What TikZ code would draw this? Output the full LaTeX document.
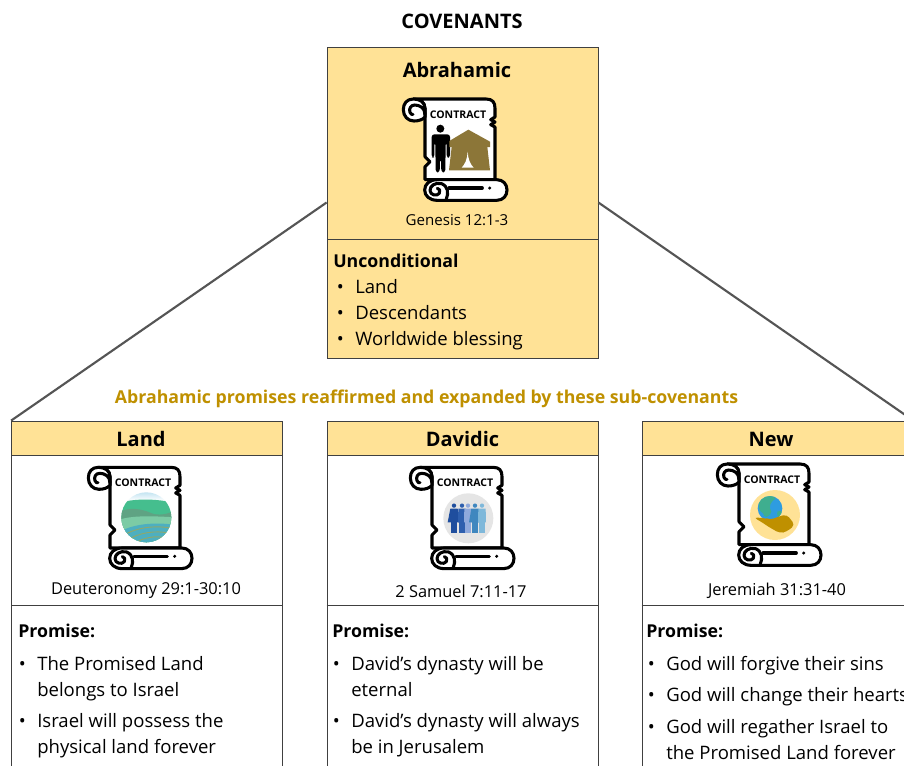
\documentclass[tikz,border=0pt]{standalone}
\usepackage{fontspec}
\setmainfont{Open Sans}
\definecolor{paleyellow}{HTML}{FFE296}
\definecolor{goldtext}{HTML}{BF9000}
\definecolor{tentbrown}{HTML}{8C7638}
\definecolor{linkgray}{HTML}{555555}
\definecolor{skyblue}{HTML}{B4DDEE}
\definecolor{hillgreen}{HTML}{45BE8E}
\definecolor{hilldark}{HTML}{5FA383}
\definecolor{hillpale}{HTML}{7CCBA5}
\definecolor{fieldblue}{HTML}{4DAFC0}
\definecolor{fieldline}{HTML}{8FA86B}
\definecolor{personone}{HTML}{1F4E9E}
\definecolor{persontwo}{HTML}{2E5FAE}
\definecolor{personthree}{HTML}{8FA9DC}
\definecolor{personfour}{HTML}{3F87BF}
\definecolor{personfive}{HTML}{7FB8DA}
\definecolor{globeblue}{HTML}{2E9CE0}
\definecolor{globeland}{HTML}{3FAE8F}
\tikzset{
  boxline/.style={draw=black!75,line width=0.6pt},
  bigbox/.style={boxline,rectangle,inner sep=0pt,minimum width=203.25pt},
  headbox/.style={boxline,rectangle,fill=paleyellow,inner sep=0pt,minimum width=203.25pt,minimum height=26pt},
  headtext/.style={inner sep=0pt,font=\fontsize{15}{18}\selectfont\bfseries},
  bodytext/.style={anchor=north west,inner sep=0pt,align=left,font=\fontsize{13.9}{19.5}\selectfont},
  boldtext/.style={bodytext,font=\fontsize{13.3}{19.5}\selectfont\bfseries},
  reftext/.style={inner sep=0pt,font=\fontsize{12.3}{15}\selectfont},
  icon/.style={scale=1/3},
  scrollline/.style={draw=black,line width=2.3pt,line join=round,line cap=round},
  scrollicon/.pic={
    % sheet
    \path[scrollline,fill=white] (100,42) -- (318,42) .. controls (338,42) and (345,52) .. (345,70)
      -- (345,96) -- (332,104) -- (345,111) -- (332,119) -- (345,126) -- (345,284) -- (135,284)
      -- (135,245) -- (150,230) -- (135,215) -- (135,70) .. controls (135,52) and (120,42) .. (100,42) -- cycle;
    % top curl
    \path[scrollline,fill=white] (100,42) .. controls (80,42) and (70,56) .. (70,74)
      .. controls (70,94) and (84,108) .. (102,108) .. controls (116,108) and (128,104) .. (135,96) -- (135,70)
      .. controls (135,52) and (120,42) .. (100,42) -- cycle;
    \path[scrollline] (135,88) .. controls (135,68) and (118,60) .. (104,60)
      .. controls (92,60) and (86,72) .. (90,82) .. controls (92,88) and (97,90) .. (99,88);
    % bottom roll
    \path[scrollline,fill=white] (172,284) -- (350,284) .. controls (370,284) and (381,298) .. (381,315)
      .. controls (381,332) and (370,346) .. (350,346) -- (172,346) .. controls (148,346) and (134,332) .. (134,315)
      .. controls (134,298) and (148,284) .. (172,284) -- cycle;
    \path[scrollline] (199,342) .. controls (206,325) and (205,305) .. (185,296) .. controls (165,291) and (150,303) .. (150,316)
      .. controls (150,330) and (170,335) .. (178,325) .. controls (183,318) and (178,310) .. (172,310);
    \path[scrollline] (207,309) -- (307,309);
    \fill (329,309) circle (5);
    \node[font=\fontsize{7.9}{9}\selectfont\bfseries,inner sep=0pt] (label) at (234,89) {CONTRACT};
  },
  tenticon/.pic={
    \fill (181,131) circle (12);
    \fill[rounded corners=2] (155,148) -- (210,148) -- (210,218) -- (200,218) -- (200,172) -- (197,172) -- (196,262)
      -- (184,262) -- (183,222) -- (180,222) -- (179,262) -- (167,262) -- (166,172) -- (163,172) -- (163,218) -- (155,218) -- cycle;
    \fill[tentbrown] (265,134) -- (330,170) -- (330,186) -- (322,186) -- (330,256) -- (207,256) -- (215,186) -- (208,186) -- (208,168) -- cycle;
    \fill[white] (263,200) .. controls (262,222) and (255,238) .. (245,248) -- (281,248) .. controls (271,238) and (264,222) .. (263,200) -- cycle;
  },
  landicon/.pic={
    \begin{scope}
      \clip (244,192) circle (75);
      \shade[top color=skyblue,bottom color=white] (160,110) rectangle (330,142);
      \fill[hillgreen] (160,150) .. controls (200,135) and (280,135) .. (330,150) -- (330,280) -- (160,280) -- cycle;
      \fill[hilldark] (160,178) .. controls (190,160) and (230,166) .. (260,180) .. controls (280,188) and (310,182) .. (330,172) -- (330,280) -- (160,280) -- cycle;
      \fill[hillpale] (160,200) .. controls (200,186) and (260,188) .. (330,192) -- (330,280) -- (160,280) -- cycle;
      \fill[fieldblue] (160,238) .. controls (200,212) and (270,205) .. (330,215) -- (330,280) -- (160,280) -- cycle;
      \draw[fieldline,line width=0.7pt] (170,250) .. controls (210,222) and (270,215) .. (320,225);
      \draw[fieldline,line width=0.7pt] (185,262) .. controls (220,238) and (270,230) .. (315,240);
      \draw[fieldline,line width=0.7pt] (205,272) .. controls (235,252) and (270,246) .. (305,254);
    \end{scope}
  },
  peopleicon/.pic={
    \fill[black!10] (244,195) circle (75);
    \foreach \fx/\fw/\fcol in {201/19/personone,225/12/persontwo,243/12/personthree,264/18/personfour,285/12/personfive} {
      \fill[\fcol] (\fx,157) circle (6.5);
      \fill[\fcol] (\fx-11,166) -- (\fx+11,166) -- (\fx+\fw,207) -- (\fx-\fw,207) -- cycle;
      \fill[\fcol] (\fx-9,207) rectangle (\fx-1,239);
      \fill[\fcol] (\fx+1,207) rectangle (\fx+9,239);
    }
  },
  globeicon/.pic={
    \fill[paleyellow] (243,195) circle (75);
    \fill[globeblue] (228,175) circle (37);
    \begin{scope}
      \clip (228,175) circle (37);
      \fill[globeland] (195,160) .. controls (205,135) and (235,130) .. (245,145) .. controls (230,155) and (222,170) .. (232,185) .. controls (225,205) and (210,205) .. (207,190) .. controls (197,185) and (192,172) .. (195,160) -- cycle;
      \fill[globeland] (250,185) .. controls (262,178) and (270,188) .. (262,203) .. controls (252,205) and (248,195) .. (250,185) -- cycle;
    \end{scope}
    \fill[goldtext,rounded corners=3] (178,202) -- (218,205) -- (228,210) -- (253,200) -- (278,193) -- (303,225) -- (278,245) -- (258,250) -- (223,230) -- (198,213) -- cycle;
  }
}
\begin{document}
\begin{tikzpicture}[x=0.75pt,y=-0.75pt]
      \useasboundingbox (0,0) rectangle (904,765);
      \clip (0,0) rectangle (904,765);
      \node[headtext] (title) at (462,21) {COVENANTS};

      % main covenant
      \node[bigbox,fill=paleyellow,minimum height=233.25pt] (abrahamic) at (462.5,202.5) {};
      \node[boxline,rectangle,inner sep=0pt,minimum width=203.25pt,minimum height=89.25pt,anchor=south] (abrahamicbody) at (abrahamic.south) {};
      \node[headtext] (abrahamicname) at (457,70) {Abrahamic};
      \pic[icon] at (380,85) {scrollicon};
      \pic[icon] at (380,85) {tenticon};
      \node[reftext,font=\fontsize{11.3}{15}\selectfont] (genesis) at (457,220) {Genesis 12:1-3};
      \node[boldtext] (uncond) at (333,254) {Unconditional};
      \node[bodytext] (uncond1) at (355,279) {\llap{•\hspace{8.5pt}}Land};
      \node[bodytext] (uncond2) at (355,305) {\llap{•\hspace{8.5pt}}Descendants};
      \node[bodytext] (uncond3) at (355,331) {\llap{•\hspace{8.5pt}}Worldwide blessing};

      \node[font=\fontsize{13.3}{16}\selectfont\bfseries,text=goldtext,inner sep=0pt] (reaffirmed) at (426.5,399) {Abrahamic promises reaffirmed and expanded by these sub-covenants};

      % sub-covenants
      \node[bigbox,fill=white,minimum height=300pt] (land) at (147,621) {};
      \node[bigbox,fill=white,minimum height=300pt] (davidic) at (462.5,621) {};
      \node[bigbox,fill=white,minimum height=300pt] (new) at (777.5,621) {};
      \node[headbox,anchor=north] (landhead) at (land.north) {};
      \node[headbox,anchor=north] (davidichead) at (davidic.north) {};
      \node[headbox,anchor=north] (newhead) at (new.north) {};
      \node[headtext] (landname) at (141,439) {Land};
      \node[headtext] (davidicname) at (462.5,439) {Davidic};
      \node[headtext] (newname) at (771,439) {New};

      \path[draw=linkgray,line width=1.6pt]
      (abrahamic.west) edge (land.north west)
      (abrahamic.east) edge (new.north east);

      \pic[icon] at (65,453.3) {scrollicon};
      \pic[icon] at (65,453.3) {landicon};
      \pic[icon] at (387,453.3) {scrollicon};
      \pic[icon] at (387,453.3) {peopleicon};
      \pic[icon] at (694,450) {scrollicon};
      \pic[icon] at (694,450) {globeicon};

      \node[reftext] (deut) at (146,591) {Deuteronomy 29:1-30:10};
      \node[reftext] (samuel) at (461,591) {2 Samuel 7:11-17};
      \node[reftext] (jeremiah) at (777,591) {Jeremiah 31:31-40};

      \coordinate (landcut) at (land.west |- 0,605);
      \coordinate (davidiccut) at (davidic.west |- 0,605);
      \coordinate (newcut) at (new.west |- 0,605);
      \path[boxline]
      (landcut) -- (land.east |- landcut)
      (davidiccut) -- (davidic.east |- davidiccut)
      (newcut) -- (new.east |- newcut);

      \node[boldtext] (landpromise) at (18,624) {Promise:};
      \node[bodytext] (land1) at (37,656) {\llap{•\hspace{8.5pt}}The Promised Land\\belongs to Israel};
      \node[bodytext] (land2) at (37,713) {\llap{•\hspace{8.5pt}}Israel will possess the\\physical land forever};

      \node[boldtext] (davidicpromise) at (332,624) {Promise:};
      \node[bodytext] (davidic1) at (351,656) {\llap{•\hspace{8.5pt}}David’s dynasty will be\\eternal};
      \node[bodytext] (davidic2) at (351,713) {\llap{•\hspace{8.5pt}}David’s dynasty will always\\be in Jerusalem};

      \node[boldtext] (newpromise) at (646,624) {Promise:};
      \node[bodytext] (new1) at (666,656) {\llap{•\hspace{8.5pt}}God will forgive their sins};
      \node[bodytext] (new2) at (666,687) {\llap{•\hspace{8.5pt}}God will change their hearts};
      \node[bodytext] (new3) at (666,719) {\llap{•\hspace{8.5pt}}God will regather Israel to\\the Promised Land forever};
\end{tikzpicture}
\end{document}
